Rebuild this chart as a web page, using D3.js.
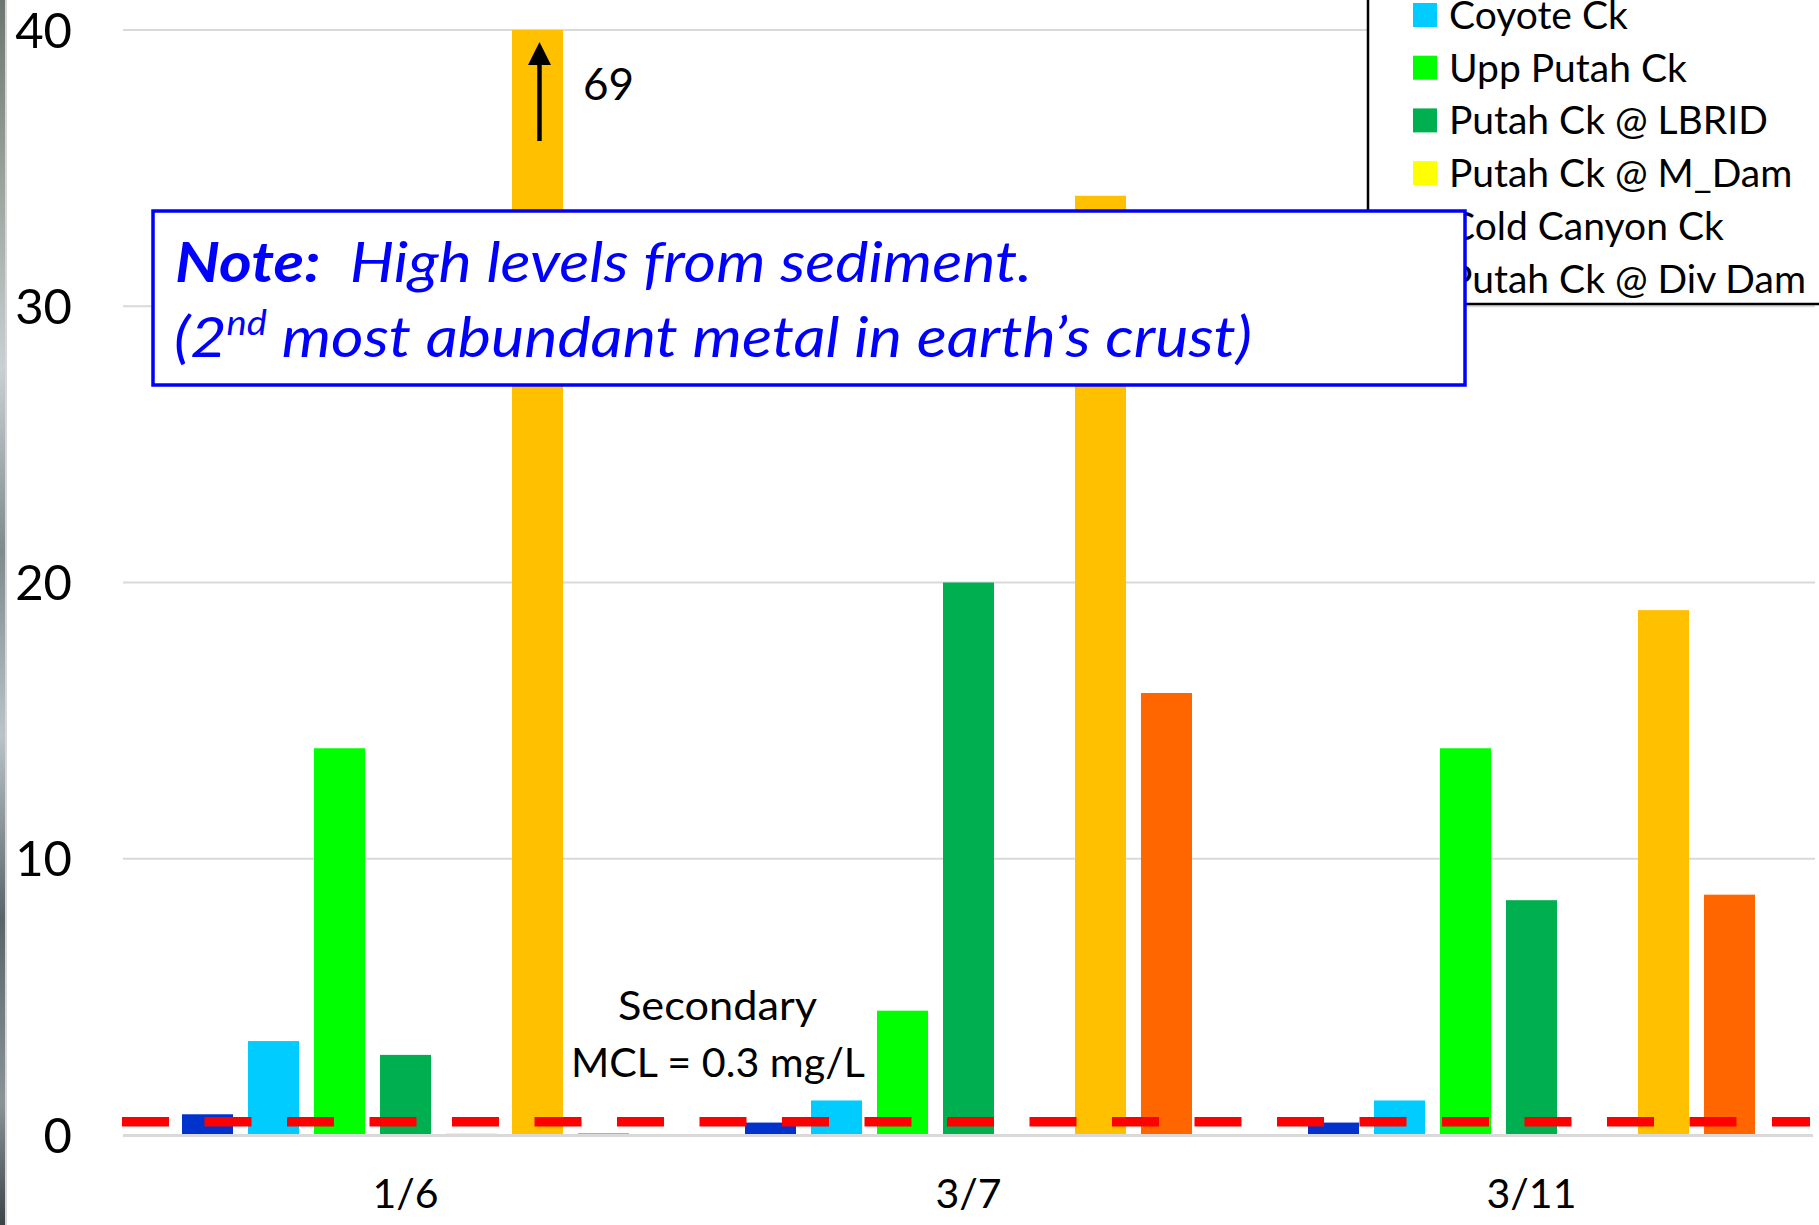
<!DOCTYPE html>
<html>
<head>
<meta charset="utf-8">
<script src="https://cdn.jsdelivr.net/npm/d3@7"></script>
<style>
  html, body { margin: 0; padding: 0; background: #fff; overflow: hidden; }
  svg { display: block; font-family: Lato, "Open Sans", sans-serif; }
</style>
</head>
<body>
<svg id="chart"></svg>
<script>
// dates on the x axis
var categories = ["1/6", "3/7", "3/11"];
// stations (first legend row sits above the picture)
var seriesNames = ["Pope Ck", "Coyote Ck", "Upp Putah Ck", "Putah Ck @ LBRID", "Putah Ck @ M_Dam", "Cold Canyon Ck", "Putah Ck @ Div Dam"];
var seriesColors = ["#0033CC", "#00CCFF", "#00FF00", "#00B050", "#FFFF00", "#FFC000", "#FF6600"];
// values, mg/L, one per date
var popeCk = [0.75, 0.45, 0.45];
var coyoteCk = [3.4, 1.25, 1.25];
var uppPutahCk = [14, 4.5, 14];
var putahLbrid = [2.9, 20, 8.5];
var putahMDam = [0.06, 0, 0];
var coldCanyonCk = [69, 34, 19];
var putahDivDam = [0.06, 16, 8.7];
var seriesValues = [popeCk, coyoteCk, uppPutahCk, putahLbrid, putahMDam, coldCanyonCk, putahDivDam];
// y axis
var yTicks = [0, 10, 20, 30, 40];
var yMax = 40;
// red dashed line as drawn on the chart
var mclLine = 0.48;

var W = 1819,
    H = 1225;

var svg = d3.select("#chart").attr("width", W).attr("height", H);

//比例尺
var x0 = d3.scaleBand().domain(categories).range([124, 1813]);
var x1 = d3.scaleBand().domain(seriesNames).range([58, 505]).paddingInner(0.227).paddingOuter(0);
var y = d3.scaleLinear().domain([0, yMax]).range([1135, 30]);

//左边的照片边
var grad = svg.append("defs").append("linearGradient")
    .attr("id", "strip").attr("x1", 0).attr("y1", 0).attr("x2", 0).attr("y2", 1);
[["0", "#6d7570"], ["0.15", "#9aa39c"], ["0.3", "#c9d0d4"], ["0.45", "#7e8a8c"], ["0.6", "#b9c3c8"], ["0.75", "#59646a"], ["0.9", "#8a9497"], ["1", "#3c4448"]]
    .forEach(function (s) {
        grad.append("stop").attr("offset", s[0]).attr("stop-color", s[1]);
    });
svg.append("rect").attr("x", 0).attr("y", 0).attr("width", 5).attr("height", H).attr("fill", "url(#strip)");
svg.append("rect").attr("x", 5).attr("y", 0).attr("width", 2).attr("height", H).attr("fill", "#d6d6d6");

//网格线
svg.append("g").selectAll("line").data(yTicks.filter(function (d) { return d > 0; }))
    .enter().append("line")
    .attr("x1", 123).attr("x2", 1815)
    .attr("y1", function (d) { return y(d); })
    .attr("y2", function (d) { return y(d); })
    .attr("stroke", "#d9d9d9").attr("stroke-width", 2);

//柱子
var groups = svg.append("g").selectAll("g").data(categories)
    .enter().append("g")
    .attr("transform", function (d) { return "translate(" + x0(d) + ",0)"; });

groups.selectAll("rect")
    .data(function (d, i) {
        return seriesNames.map(function (s, k) {
            return { name: s, value: seriesValues[k][i], color: seriesColors[k] };
        });
    })
    .enter().append("rect")
    .attr("x", function (d) { return x1(d.name); })
    .attr("width", x1.bandwidth())
    .attr("y", function (d) { return y(Math.min(d.value, yMax)); })
    .attr("height", function (d) { return y(0) - y(Math.min(d.value, yMax)); })
    .attr("fill", function (d) { return d.color; });

//零线
svg.append("line").attr("x1", 123).attr("x2", 1813).attr("y1", y(0) + 0.5).attr("y2", y(0) + 0.5)
    .attr("stroke", "#d9d9d9").attr("stroke-width", 3);

//y轴刻度
svg.append("g").selectAll("text").data(yTicks)
    .enter().append("text")
    .attr("x", 72)
    .attr("y", function (d) { return y(d); })
    .attr("dy", "0.36em")
    .attr("text-anchor", "end")
    .attr("font-size", 49)
    .attr("fill", "#000")
    .text(function (d) { return d; });

//x轴标签
svg.append("g").selectAll("text").data(categories)
    .enter().append("text")
    .attr("x", function (d) { return x0(d) + x0.bandwidth() / 2; })
    .attr("y", 1208)
    .attr("text-anchor", "middle")
    .attr("font-size", 41)
    .attr("fill", "#000")
    .text(function (d) { return d; });

//MCL 红色虚线
svg.append("line")
    .attr("x1", 122).attr("x2", 1810)
    .attr("y1", y(mclLine)).attr("y2", y(mclLine))
    .attr("stroke", "#FF0000").attr("stroke-width", 9.5)
    .attr("stroke-dasharray", "47,35.5");

var mclX = x0(categories[1]) + 31;
svg.append("text")
    .attr("x", mclX - 100).attr("y", 1020)
    .attr("font-size", 40)
    .attr("fill", "#000")
    .attr("textLength", 199).attr("lengthAdjust", "spacingAndGlyphs")
    .text("Secondary");
svg.append("text")
    .attr("x", mclX - 147).attr("y", 1077)
    .attr("font-size", 40)
    .attr("fill", "#000")
    .attr("textLength", 294).attr("lengthAdjust", "spacingAndGlyphs")
    .text("MCL = 0.3 mg/L");

//截断柱子的箭头和真实值
var goldX = x0(categories[0]) + x1(seriesNames[5]) + x1.bandwidth() / 2;
svg.append("line")
    .attr("x1", goldX + 2).attr("x2", goldX + 2)
    .attr("y1", y(yMax) + 111).attr("y2", y(yMax) + 32)
    .attr("stroke", "#000").attr("stroke-width", 4.5);
svg.append("path")
    .attr("d", "M" + (goldX + 2) + "," + (y(yMax) + 12) + " L" + (goldX + 13.5) + "," + (y(yMax) + 35) +
        " L" + (goldX - 9.5) + "," + (y(yMax) + 35) + " Z")
    .attr("fill", "#000");
svg.append("text")
    .attr("x", x0(categories[0]) + x1(seriesNames[5]) + x1.bandwidth() + 20)
    .attr("y", 100)
    .attr("font-size", 44)
    .attr("fill", "#000")
    .text(coldCanyonCk[0]);

//图例
svg.append("rect")
    .attr("x", 1368).attr("y", -20).attr("width", 500).attr("height", 324)
    .attr("fill", "#fff").attr("stroke", "#000").attr("stroke-width", 2.5);
var legend = svg.append("g").selectAll("g").data(seriesNames)
    .enter().append("g")
    .attr("transform", function (d, i) { return "translate(1413," + (15 + (i - 1) * 52.7) + ")"; });
legend.append("rect")
    .attr("x", 0).attr("y", -12).attr("width", 24).attr("height", 24)
    .attr("fill", function (d, i) { return seriesColors[i]; });
legend.append("text")
    .attr("x", 36).attr("y", 14)
    .attr("font-size", 39)
    .attr("fill", "#000")
    .text(function (d) { return d; });

//说明框
svg.append("rect")
    .attr("x", 153).attr("y", 211).attr("width", 1312).attr("height", 174)
    .attr("fill", "#fff").attr("stroke", "#0000FF").attr("stroke-width", 3.5);

var note1 = svg.append("text")
    .attr("x", 175).attr("y", 282)
    .attr("font-size", 56)
    .attr("font-style", "italic")
    .attr("fill", "#0000FF")
    .attr("textLength", 857).attr("lengthAdjust", "spacingAndGlyphs");
note1.append("tspan").attr("font-weight", "bold").text("Note:");
note1.append("tspan").attr("xml:space", "preserve").text("\u00a0 High levels from sediment.");

var note2 = svg.append("text")
    .attr("x", 174).attr("y", 357)
    .attr("font-size", 56)
    .attr("font-style", "italic")
    .attr("fill", "#0000FF")
    .attr("textLength", 1078).attr("lengthAdjust", "spacingAndGlyphs");
note2.append("tspan").text("(2");
note2.append("tspan").attr("font-size", 34).attr("dy", -22).text("nd");
note2.append("tspan").attr("dy", 22).text(" most abundant metal in earth\u2019s crust)");
</script>
</body>
</html>
